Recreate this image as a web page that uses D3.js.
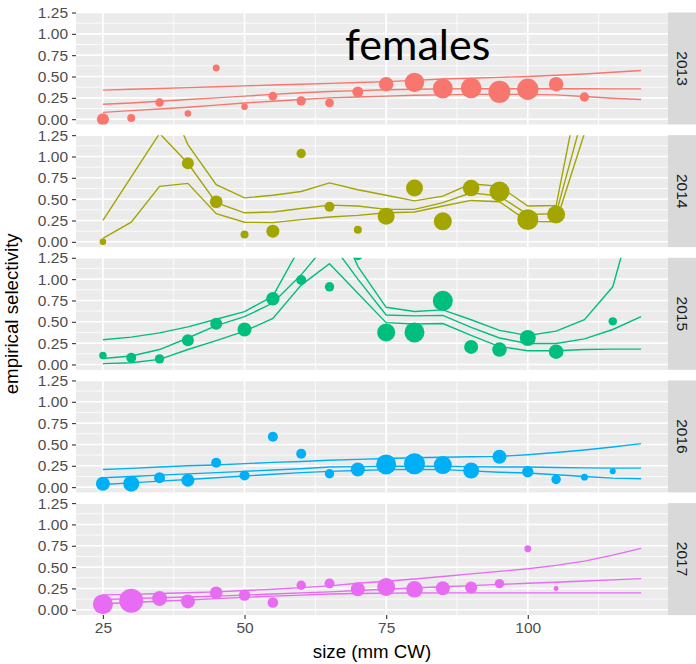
<!DOCTYPE html>
<html><head><meta charset="utf-8">
<script src="https://cdn.jsdelivr.net/npm/d3@7/dist/d3.min.js"></script>
<style>body{margin:0;background:#fff;} svg{display:block;}</style>
</head><body>
<svg id="chart" width="696" height="664"></svg>
<script>
// ---------------- data ----------------
const years = ["2013", "2014", "2015", "2016", "2017"];
const yearColors = ["#F8766D", "#A3A500", "#00BF7D", "#00B0F6", "#E76BF3"];
const yTicks = [0, 0.25, 0.5, 0.75, 1.0, 1.25];
const xTicks = [25, 50, 75, 100];

// sizes at which fitted curves are evaluated (mm CW)
const fitSizes = [25, 30, 35, 40, 45, 50, 55, 60, 65, 70, 75, 80, 85, 90, 95, 100, 105, 110, 115, 120];

// fitted curves: upper, middle, lower
const fit2013Upper = [0.34, 0.35, 0.36, 0.37, 0.38, 0.39, 0.40, 0.41, 0.42, 0.43, 0.44, 0.455, 0.47, 0.48, 0.49, 0.50, 0.515, 0.53, 0.55, 0.57];
const fit2013Mid   = [0.175, 0.19, 0.21, 0.23, 0.25, 0.27, 0.29, 0.31, 0.325, 0.335, 0.345, 0.35, 0.355, 0.357, 0.357, 0.357, 0.356, 0.356, 0.355, 0.355];
const fit2013Low   = [0.08, 0.10, 0.12, 0.14, 0.165, 0.19, 0.21, 0.23, 0.25, 0.26, 0.27, 0.28, 0.285, 0.29, 0.29, 0.29, 0.285, 0.265, 0.245, 0.23];

const fit2014Upper = [2.5, 2.5, 1.9, 1.14, 0.67, 0.515, 0.545, 0.59, 0.69, 0.61, 0.545, 0.48, 0.535, 0.68, 0.65, 0.42, 0.425, 2.1, 3.5, 5.0];
const fit2014Mid   = [0.25, 0.76, 1.27, 0.92, 0.46, 0.34, 0.35, 0.39, 0.43, 0.42, 0.38, 0.38, 0.46, 0.575, 0.535, 0.32, 0.33, 1.55, 3.0, 4.5];
const fit2014Low   = [0.04, 0.23, 0.65, 0.685, 0.33, 0.23, 0.225, 0.26, 0.29, 0.31, 0.34, 0.35, 0.42, 0.485, 0.47, 0.24, 0.235, 1.27, 2.5, 4.0];

const fit2015Upper = [0.29, 0.32, 0.37, 0.44, 0.53, 0.62, 0.80, 1.40, 1.9, 1.15, 0.67, 0.62, 0.64, 0.524, 0.40, 0.34, 0.39, 0.524, 0.91, 2.1];
const fit2015Mid   = [0.07, 0.10, 0.175, 0.31, 0.455, 0.56, 0.72, 1.05, 1.45, 1.0, 0.58, 0.57, 0.575, 0.435, 0.31, 0.245, 0.245, 0.30, 0.41, 0.56];
const fit2015Low   = [0.01, 0.02, 0.06, 0.175, 0.28, 0.39, 0.54, 0.93, 1.18, 0.835, 0.49, 0.474, 0.48, 0.34, 0.21, 0.16, 0.16, 0.175, 0.18, 0.18];

const fit2016Upper = [0.207, 0.22, 0.235, 0.25, 0.26, 0.275, 0.29, 0.30, 0.315, 0.325, 0.335, 0.345, 0.35, 0.355, 0.36, 0.38, 0.405, 0.435, 0.47, 0.51];
const fit2016Mid   = [0.11, 0.125, 0.14, 0.155, 0.17, 0.185, 0.20, 0.215, 0.235, 0.24, 0.245, 0.245, 0.245, 0.24, 0.235, 0.235, 0.23, 0.225, 0.222, 0.222];
const fit2016Low   = [0.03, 0.05, 0.07, 0.09, 0.11, 0.13, 0.15, 0.17, 0.185, 0.195, 0.205, 0.207, 0.205, 0.19, 0.175, 0.165, 0.145, 0.125, 0.105, 0.098];

const fit2017Upper = [0.175, 0.18, 0.19, 0.20, 0.21, 0.225, 0.24, 0.26, 0.28, 0.31, 0.335, 0.36, 0.39, 0.42, 0.45, 0.48, 0.52, 0.57, 0.64, 0.72];
const fit2017Mid   = [0.12, 0.13, 0.14, 0.15, 0.16, 0.172, 0.185, 0.198, 0.21, 0.225, 0.24, 0.255, 0.27, 0.283, 0.297, 0.31, 0.323, 0.337, 0.35, 0.365];
const fit2017Low   = [0.07, 0.085, 0.10, 0.115, 0.13, 0.145, 0.16, 0.172, 0.185, 0.19, 0.195, 0.197, 0.198, 0.198, 0.198, 0.198, 0.198, 0.198, 0.198, 0.198];

// observed empirical selectivity, with sample size (point size)
const obsSize2013 = [25, 30, 35, 40, 45, 50, 55, 60, 65, 70, 75, 80, 85, 90, 95, 100, 105, 110];
const obsSel2013  = [0.00, 0.015, 0.195, 0.067, 0.60, 0.145, 0.27, 0.215, 0.19, 0.32, 0.41, 0.43, 0.36, 0.365, 0.32, 0.35, 0.41, 0.26];
const obsN2013    = [36, 16, 18, 11, 12, 11, 19, 22, 19, 30, 53, 94, 100, 106, 121, 114, 53, 22];

const obsSize2014 = [25, 40, 45, 50, 55, 60, 65, 70, 75, 80, 85, 90, 95, 100, 105];
const obsSel2014  = [0.00, 0.92, 0.47, 0.085, 0.125, 1.035, 0.41, 0.14, 0.30, 0.63, 0.24, 0.63, 0.59, 0.26, 0.32];
const obsN2014    = [11, 36, 40, 16, 42, 22, 25, 16, 72, 72, 81, 69, 100, 110, 81];

const obsSize2015 = [25, 30, 35, 40, 45, 50, 55, 60, 65, 70, 75, 80, 85, 90, 95, 100, 105, 115];
const obsSel2015  = [0.105, 0.078, 0.066, 0.283, 0.478, 0.41, 0.77, 0.99, 0.91, 1.28, 0.376, 0.376, 0.746, 0.206, 0.175, 0.31, 0.15, 0.505];
const obsN2015    = [14, 25, 22, 36, 36, 49, 45, 25, 22, 25, 81, 100, 100, 49, 53, 64, 53, 18];

const obsSize2016 = [25, 30, 35, 40, 45, 50, 55, 60, 65, 70, 75, 80, 85, 90, 95, 100, 105, 110, 115];
const obsSel2016  = [0.04, 0.04, 0.11, 0.08, 0.285, 0.137, 0.59, 0.39, 0.157, 0.207, 0.266, 0.274, 0.258, 0.195, 0.356, 0.18, 0.09, 0.117, 0.187];
const obsN2016    = [49, 64, 30, 42, 25, 25, 25, 25, 22, 49, 100, 110, 81, 64, 49, 32, 22, 12, 9];

const obsSize2017 = [25, 30, 35, 40, 45, 50, 55, 60, 65, 70, 75, 80, 85, 90, 95, 100, 105];
const obsSel2017  = [0.066, 0.105, 0.133, 0.098, 0.20, 0.171, 0.086, 0.287, 0.307, 0.24, 0.268, 0.24, 0.252, 0.26, 0.307, 0.715, 0.25];
const obsN2017    = [100, 144, 56, 49, 40, 32, 28, 22, 25, 49, 81, 69, 49, 36, 22, 12, 6];

const panels = [
  {year: years[0], fits: [fit2013Upper, fit2013Mid, fit2013Low], sz: obsSize2013, sel: obsSel2013, n: obsN2013},
  {year: years[1], fits: [fit2014Upper, fit2014Mid, fit2014Low], sz: obsSize2014, sel: obsSel2014, n: obsN2014},
  {year: years[2], fits: [fit2015Upper, fit2015Mid, fit2015Low], sz: obsSize2015, sel: obsSel2015, n: obsN2015},
  {year: years[3], fits: [fit2016Upper, fit2016Mid, fit2016Low], sz: obsSize2016, sel: obsSel2016, n: obsN2016},
  {year: years[4], fits: [fit2017Upper, fit2017Mid, fit2017Low], sz: obsSize2017, sel: obsSel2017, n: obsN2017}
];

// ---------------- layout ----------------
const W = 696, H = 664;
const pLeft = 76, pRight = 668, stripW = 28;
const pTop0 = 12.5, panelH = 112, step = 122.65;
const font = "'Liberation Sans', Arial, Helvetica, sans-serif";

const svg = d3.select("#chart");
const x = d3.scaleLinear().domain([20.25, 124.75]).range([pLeft, pRight]);
const r = d3.scaleSqrt().domain([0, 144]).range([0, 12]);
const yMinor = [0.125, 0.375, 0.625, 0.875, 1.125];
const xMinor = [37.5, 62.5, 87.5, 112.5];

panels.forEach((p, i) => {
  const top = pTop0 + i * step;
  const y = d3.scaleLinear().domain([-0.0625, 1.25]).range([top + panelH, top]);
  const col = yearColors[i];
  const g = svg.append("g");

  g.append("rect").attr("x", pLeft).attr("y", top).attr("width", pRight - pLeft).attr("height", panelH).attr("fill", "#EBEBEB");

  const cid = "clip" + i;
  svg.append("clipPath").attr("id", cid).append("rect")
    .attr("x", pLeft).attr("y", top).attr("width", pRight - pLeft).attr("height", panelH);

  // minor grid
  g.selectAll(".ymin").data(yMinor).join("line")
    .attr("x1", pLeft).attr("x2", pRight).attr("y1", d => y(d)).attr("y2", d => y(d))
    .attr("stroke", "#fff").attr("stroke-width", 0.8);
  g.selectAll(".xmin").data(xMinor).join("line")
    .attr("x1", d => x(d)).attr("x2", d => x(d)).attr("y1", top).attr("y2", top + panelH)
    .attr("stroke", "#fff").attr("stroke-width", 0.8);
  // major grid
  g.selectAll(".ymaj").data(yTicks).join("line")
    .attr("x1", pLeft).attr("x2", pRight).attr("y1", d => y(d)).attr("y2", d => y(d))
    .attr("stroke", "#fff").attr("stroke-width", 1.6);
  g.selectAll(".xmaj").data(xTicks).join("line")
    .attr("x1", d => x(d)).attr("x2", d => x(d)).attr("y1", top).attr("y2", top + panelH)
    .attr("stroke", "#fff").attr("stroke-width", 1.6);

  const data = g.append("g").attr("clip-path", `url(#${cid})`);
  const line = d3.line().x((d, k) => x(fitSizes[k])).y(d => y(d));
  p.fits.forEach(f => {
    data.append("path").attr("d", line(f)).attr("fill", "none")
      .attr("stroke", col).attr("stroke-width", 1.4);
  });
  data.selectAll("circle").data(p.sel).join("circle")
    .attr("cx", (d, k) => x(p.sz[k])).attr("cy", d => y(d))
    .attr("r", (d, k) => r(p.n[k])).attr("fill", col);

  // y axis
  const ax = g.append("g").attr("transform", `translate(${pLeft},0)`)
    .call(d3.axisLeft(y).tickValues(yTicks).tickFormat(d3.format(".2f")).tickSize(4).tickPadding(4));
  ax.select(".domain").remove();
  ax.selectAll("line").attr("stroke", "#333").attr("stroke-width", 1.1);
  ax.selectAll("text").attr("fill", "#4D4D4D").style("font-family", font).style("font-size", "15.5px");

  // strip
  g.append("rect").attr("x", pRight).attr("y", top).attr("width", stripW).attr("height", panelH).attr("fill", "#D9D9D9");
  g.append("text").attr("transform", `translate(${pRight + stripW / 2},${top + panelH / 2}) rotate(90)`)
    .attr("text-anchor", "middle").attr("dominant-baseline", "central")
    .style("font-family", font).style("font-size", "15.5px").attr("fill", "#1A1A1A").text(p.year);

  if (i === panels.length - 1) {
    const bx = g.append("g").attr("transform", `translate(0,${top + panelH})`)
      .call(d3.axisBottom(x).tickValues(xTicks).tickSize(4).tickPadding(3));
    bx.select(".domain").remove();
    bx.selectAll("line").attr("stroke", "#333").attr("stroke-width", 1.1);
    bx.selectAll("text").attr("fill", "#4D4D4D").style("font-family", font).style("font-size", "15.5px");
  }
});

// axis titles
svg.append("text").attr("x", (pLeft + pRight) / 2).attr("y", 658)
  .attr("text-anchor", "middle").style("font-family", font).style("font-size", "18.7px")
  .attr("fill", "#000").text("size (mm CW)");
svg.append("text").attr("transform", `translate(18,${(pTop0 + pTop0 + 4 * step + panelH) / 2}) rotate(-90)`)
  .attr("text-anchor", "middle").style("font-family", font).style("font-size", "18.7px")
  .attr("fill", "#000").text("empirical selectivity");

// annotation
svg.append("text").attr("x", 345).attr("y", 60)
  .style("font-family", "Lato, 'Open Sans', sans-serif").style("font-size", "43px")
  .attr("fill", "#000").text("females");
</script>
</body></html>
